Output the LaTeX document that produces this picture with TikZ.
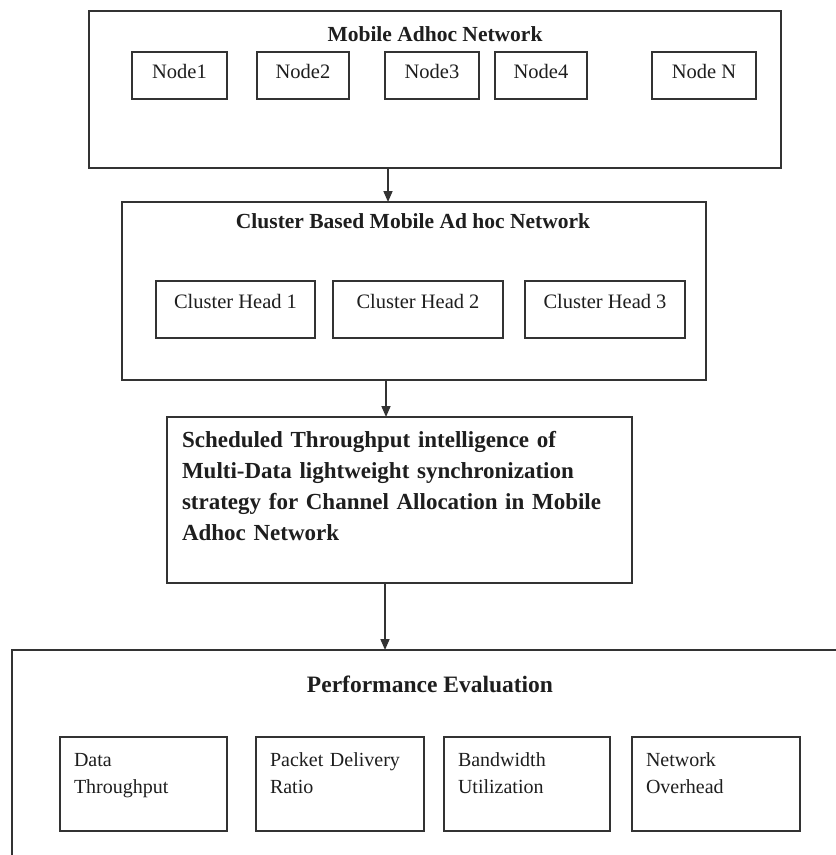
\documentclass[tikz,border=0pt]{standalone}
\usepackage{fontspec}
\setmainfont{Liberation Serif}
\usetikzlibrary{arrows.meta}
\definecolor{linec}{HTML}{333333}
\definecolor{txtc}{HTML}{1E1E1E}
\tikzset{
  frame/.style={draw=linec, line width=1.5pt, rectangle, inner sep=0pt, outer sep=0pt, anchor=north west, text=txtc},
  container/.style={frame},
  ttl/.style={anchor=base, inner sep=0pt, text=txtc, font=\bfseries\fontsize{21.5}{26}\selectfont},
  nodebox/.style={frame, font=\fontsize{20.5}{24}\selectfont, text height=14pt, text depth=8pt, align=center},
  chbox/.style={frame, font=\fontsize{20.5}{24}\selectfont, text height=14pt, text depth=16pt, align=center},
  perfbox/.style={frame, font=\fontsize{20}{27}\selectfont, inner xsep=14pt, inner ysep=0pt, text height=14pt, text depth=50pt, align=left},
  schedbox/.style={frame, font=\bfseries\fontsize{23}{31}\selectfont, inner xsep=15pt, inner ysep=0pt, text height=16pt, text depth=122pt, align=left},
  arr/.style={draw=linec, line width=1.6pt, -{Triangle[length=11pt,width=9pt]}}
}
\begin{document}
\begin{tikzpicture}[x=1pt,y=-1pt]
\useasboundingbox (0,0) rectangle (836,855);
\fill[white] (0,0) rectangle (836,855);
\begin{scope}
\clip (0,0) rectangle (836,855);
% Box 1
\node[container, minimum width=692pt, minimum height=157pt] (box1) at (89,11) {};
\node[ttl] (t1) at (435,41) {Mobile Adhoc Network};
\node[nodebox, minimum width=95pt, minimum height=47pt] (n1) at (132,52) {Node1};
\node[nodebox, minimum width=92pt, minimum height=47pt] (n2) at (257,52) {Node2};
\node[nodebox, minimum width=94pt, minimum height=47pt] (n3) at (385,52) {Node3};
\node[nodebox, minimum width=92pt, minimum height=47pt] (n4) at (495,52) {Node4};
\node[nodebox, minimum width=104pt, minimum height=47pt] (nN) at (652,52) {Node N};
% Box 2
\node[container, minimum width=584pt, minimum height=178pt] (box2) at (122,202) {};
\node[ttl] (t2) at (413,228) {Cluster Based Mobile Ad hoc Network};
\node[chbox, minimum width=159pt, minimum height=57pt] (ch1) at (156,281) {Cluster Head 1};
\node[chbox, minimum width=170pt, minimum height=57pt] (ch2) at (333,281) {Cluster Head 2};
\node[chbox, minimum width=160pt, minimum height=57pt] (ch3) at (525,281) {Cluster Head 3};
% Box 3
\node[schedbox, minimum width=465pt, minimum height=166pt, text width=435pt] (box3) at (167,417)
  {Scheduled Throughput intelligence of\\Multi-Data lightweight synchronization\\strategy for Channel Allocation in Mobile\\Adhoc Network};
% Box 4
\node[container, minimum width=900pt, minimum height=300pt] (box4) at (12,650) {};
\node[ttl, font=\bfseries\fontsize{23.5}{28}\selectfont] (t4) at (430,692) {Performance Evaluation};
\node[perfbox, minimum width=167pt, minimum height=94pt, text width=139pt] (p1) at (60,737) {Data\\Throughput};
\node[perfbox, minimum width=168pt, minimum height=94pt, text width=140pt] (p2) at (256,737) {Packet Delivery\\Ratio};
\node[perfbox, minimum width=166pt, minimum height=94pt, text width=138pt] (p3) at (444,737) {Bandwidth\\Utilization};
\node[perfbox, minimum width=168pt, minimum height=94pt, text width=140pt] (p4) at (632,737) {Network\\Overhead};
% connectors
\coordinate (ax1) at (388,0);
\coordinate (ax2) at (386,0);
\coordinate (ax3) at (385,0);
\draw[arr] (box1.south -| ax1) -- (box2.north -| ax1);
\draw[arr] (box2.south -| ax2) -- (box3.north -| ax2);
\draw[arr] (box3.south -| ax3) -- (box4.north -| ax3);
\end{scope}
\end{tikzpicture}
\end{document}
